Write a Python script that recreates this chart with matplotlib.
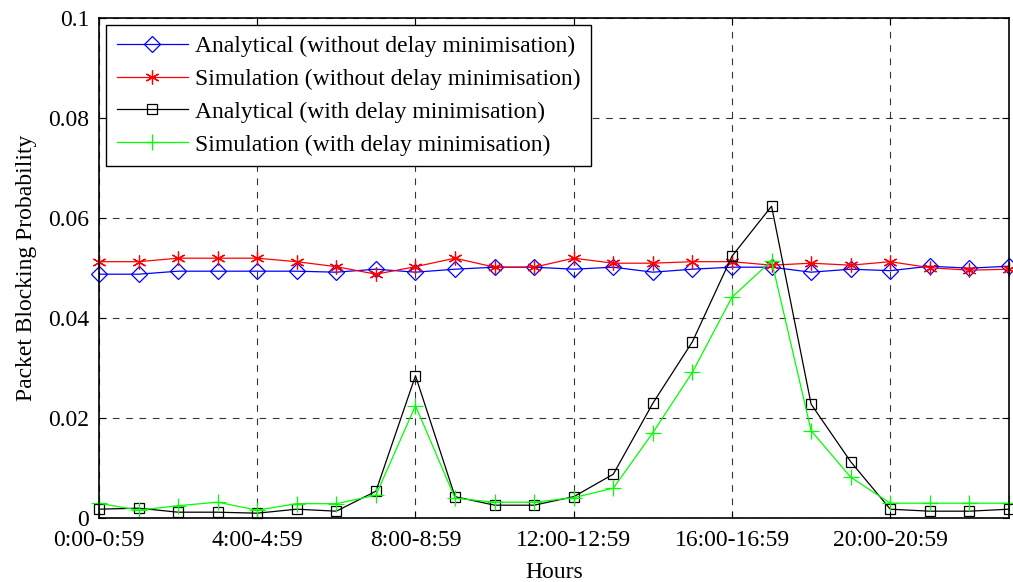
import matplotlib
matplotlib.use('Agg')
import matplotlib.pyplot as plt

plt.rcParams['font.family'] = ['Liberation Serif', 'DejaVu Serif']

hours = list(range(24))
tick_pos = [0, 4, 8, 12, 16, 20]
tick_labels = ['0:00-0:59', '4:00-4:59', '8:00-8:59', '12:00-12:59', '16:00-16:59', '20:00-20:59']

ana_without = [0.0487, 0.0487, 0.0493, 0.0493, 0.0493, 0.0493, 0.0491, 0.0497,
               0.0491, 0.0497, 0.0501, 0.0501, 0.0497, 0.0501, 0.0491, 0.0497,
               0.0501, 0.0501, 0.0491, 0.0497, 0.0494, 0.0503, 0.0499, 0.0503]
sim_without = [0.0512, 0.0512, 0.0519, 0.0519, 0.0519, 0.0512, 0.0502, 0.0487,
               0.0502, 0.0519, 0.0501, 0.0501, 0.0519, 0.0509, 0.0509, 0.0512,
               0.0512, 0.0505, 0.0509, 0.0505, 0.0512, 0.0500, 0.0495, 0.0497]
ana_with = [0.0017, 0.0019, 0.0011, 0.0011, 0.0009, 0.0017, 0.0013, 0.0053,
            0.0284, 0.0042, 0.0025, 0.0025, 0.0042, 0.0087, 0.0229, 0.0352,
            0.0523, 0.0623, 0.0227, 0.0112, 0.0017, 0.0013, 0.0013, 0.0017]
sim_with = [0.0029, 0.0015, 0.0024, 0.0031, 0.0015, 0.0028, 0.0028, 0.0045,
            0.0224, 0.0039, 0.0031, 0.0031, 0.0040, 0.0059, 0.0170, 0.0291,
            0.0441, 0.0514, 0.0174, 0.0081, 0.0029, 0.0029, 0.0029, 0.0029]

fig = plt.figure(figsize=(10.13, 5.82), dpi=100)
ax = fig.add_axes([0.0977, 0.1105, 0.8983, 0.8591])

ax.plot(hours, ana_without, color='blue', lw=0.9, marker='D', ms=8, mfc='none',
        mec='blue', mew=0.9, label='Analytical (without delay minimisation)', clip_on=False)
ax.plot(hours, sim_without, color='red', lw=0.9, marker=(6, 2, 0), ms=10,
        mec='red', mew=0.9, label='Simulation (without delay minimisation)', clip_on=False)
ax.plot(hours, ana_with, color='black', lw=0.9, marker='s', ms=7.5, mfc='none',
        mec='black', mew=0.9, label='Analytical (with delay minimisation)', clip_on=False)
ax.plot(hours, sim_with, color='#00ff00', lw=0.9, marker='+', ms=11,
        mew=0.9, label='Simulation (with delay minimisation)', clip_on=False)

ax.set_xlim(0, 23)
ax.set_ylim(0, 0.1)
ax.set_xticks(tick_pos)
ax.set_xticklabels(tick_labels)
ax.set_yticks([0, 0.02, 0.04, 0.06, 0.08, 0.1])
ax.set_yticklabels(['0', '0.02', '0.04', '0.06', '0.08', '0.1'])
ax.tick_params(direction='in', top=True, right=True, labelsize=17, length=5)
ax.tick_params(axis='x', pad=9)
ax.tick_params(axis='y', pad=7)
ax.grid(True, color='black', linestyle=(0, (6, 6)), lw=0.8, alpha=0.8)
for s in ax.spines.values():
    s.set_linewidth(1.2)

ax.set_xlabel('Hours', fontsize=17, labelpad=8)
ax.set_ylabel('Packet Blocking Probability', fontsize=17, labelpad=8)

leg = ax.legend(loc='upper left', fontsize=17, handlelength=3.0, fancybox=False,
                edgecolor='black', framealpha=1, borderaxespad=0.3,
                labelspacing=0.48, borderpad=0.45, handletextpad=0.3)
leg.get_frame().set_linewidth(1.0)

plt.savefig('out.png', dpi=100)
